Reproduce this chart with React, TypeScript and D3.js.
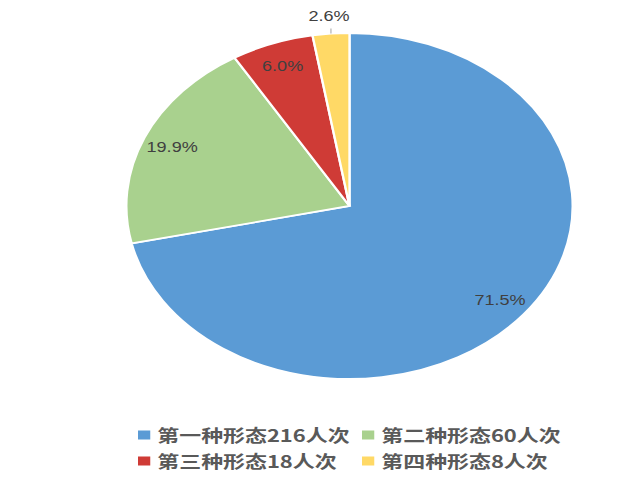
import React from 'react';
import * as d3 from 'd3';

// chart data
const categories = ['第一种形态', '第二种形态', '第三种形态', '第四种形态'];
const counts = [216, 60, 18, 8];
const colors = ['#5B9BD5', '#A9D18E', '#CF3B36', '#FFD966'];

const W = 640;
const H = 480;
const SX = 1.29; // the picture is stretched horizontally

const App: React.FC = () => {
  const cx = 349.5 / SX;
  const cy = 206;
  const r = 173;
  const total = d3.sum(counts);

  const pie = d3.pie<number>().sort(null).value(d => d);
  const arcs = pie(counts);
  const arc = d3.arc<d3.PieArcDatum<number>>().innerRadius(0).outerRadius(r);

  // legend: two columns, two rows
  const legendCols = [138, 362];
  const legendRows = [435, 461];

  return (
    <svg width={W} height={H} style={{ position: 'absolute', left: 0, top: 0 }}>
      <rect width={W} height={H} fill="#fff" />
      <g transform={`scale(${SX},1)`}>
        <g transform={`translate(${cx},${cy})`}>
          {arcs.map((a, i) => (
            <path key={i} d={arc(a) || ''} fill={colors[i]} stroke="#fff" strokeWidth={1.8} />
          ))}
          {arcs.map((a, i) => {
            const share = a.value / total;
            const mid = (a.startAngle + a.endAngle) / 2;
            const outside = share < 0.05;
            const lr = outside ? r * 1.105 : r * 0.865;
            const x = Math.sin(mid) * lr;
            const y = -Math.cos(mid) * lr;
            return (
              <g key={i}>
                {outside && (
                  <line
                    x1={Math.sin(mid) * r * 1.0}
                    y1={-Math.cos(mid) * r * 1.0}
                    x2={Math.sin(mid) * r * 1.0}
                    y2={-Math.cos(mid) * r * 1.03}
                    stroke="#a6a6a6"
                    strokeWidth={0.8}
                  />
                )}
                <text
                  x={x}
                  y={y}
                  textAnchor="middle"
                  dominantBaseline="central"
                  fontFamily="'Liberation Sans', Arial, sans-serif"
                  fontSize={14}
                  fill="#404040"
                >
                  {d3.format('.1%')(share)}
                </text>
              </g>
            );
          })}
        </g>
        {categories.map((c, i) => {
          const lx = legendCols[i % 2] / SX;
          const ly = legendRows[Math.floor(i / 2)];
          return (
            <g key={c}>
              <rect x={lx} y={ly - 4.5} width={9.5} height={9} fill={colors[i]} />
              <text
                x={lx + 15}
                y={ly}
                dominantBaseline="central"
                fontFamily="'Noto Sans CJK SC', sans-serif"
                fontWeight="bold"
                fontSize={17}
                fill="#595959"
              >
                {`${c}${counts[i]}人次`}
              </text>
            </g>
          );
        })}
      </g>
    </svg>
  );
};

export default App;
